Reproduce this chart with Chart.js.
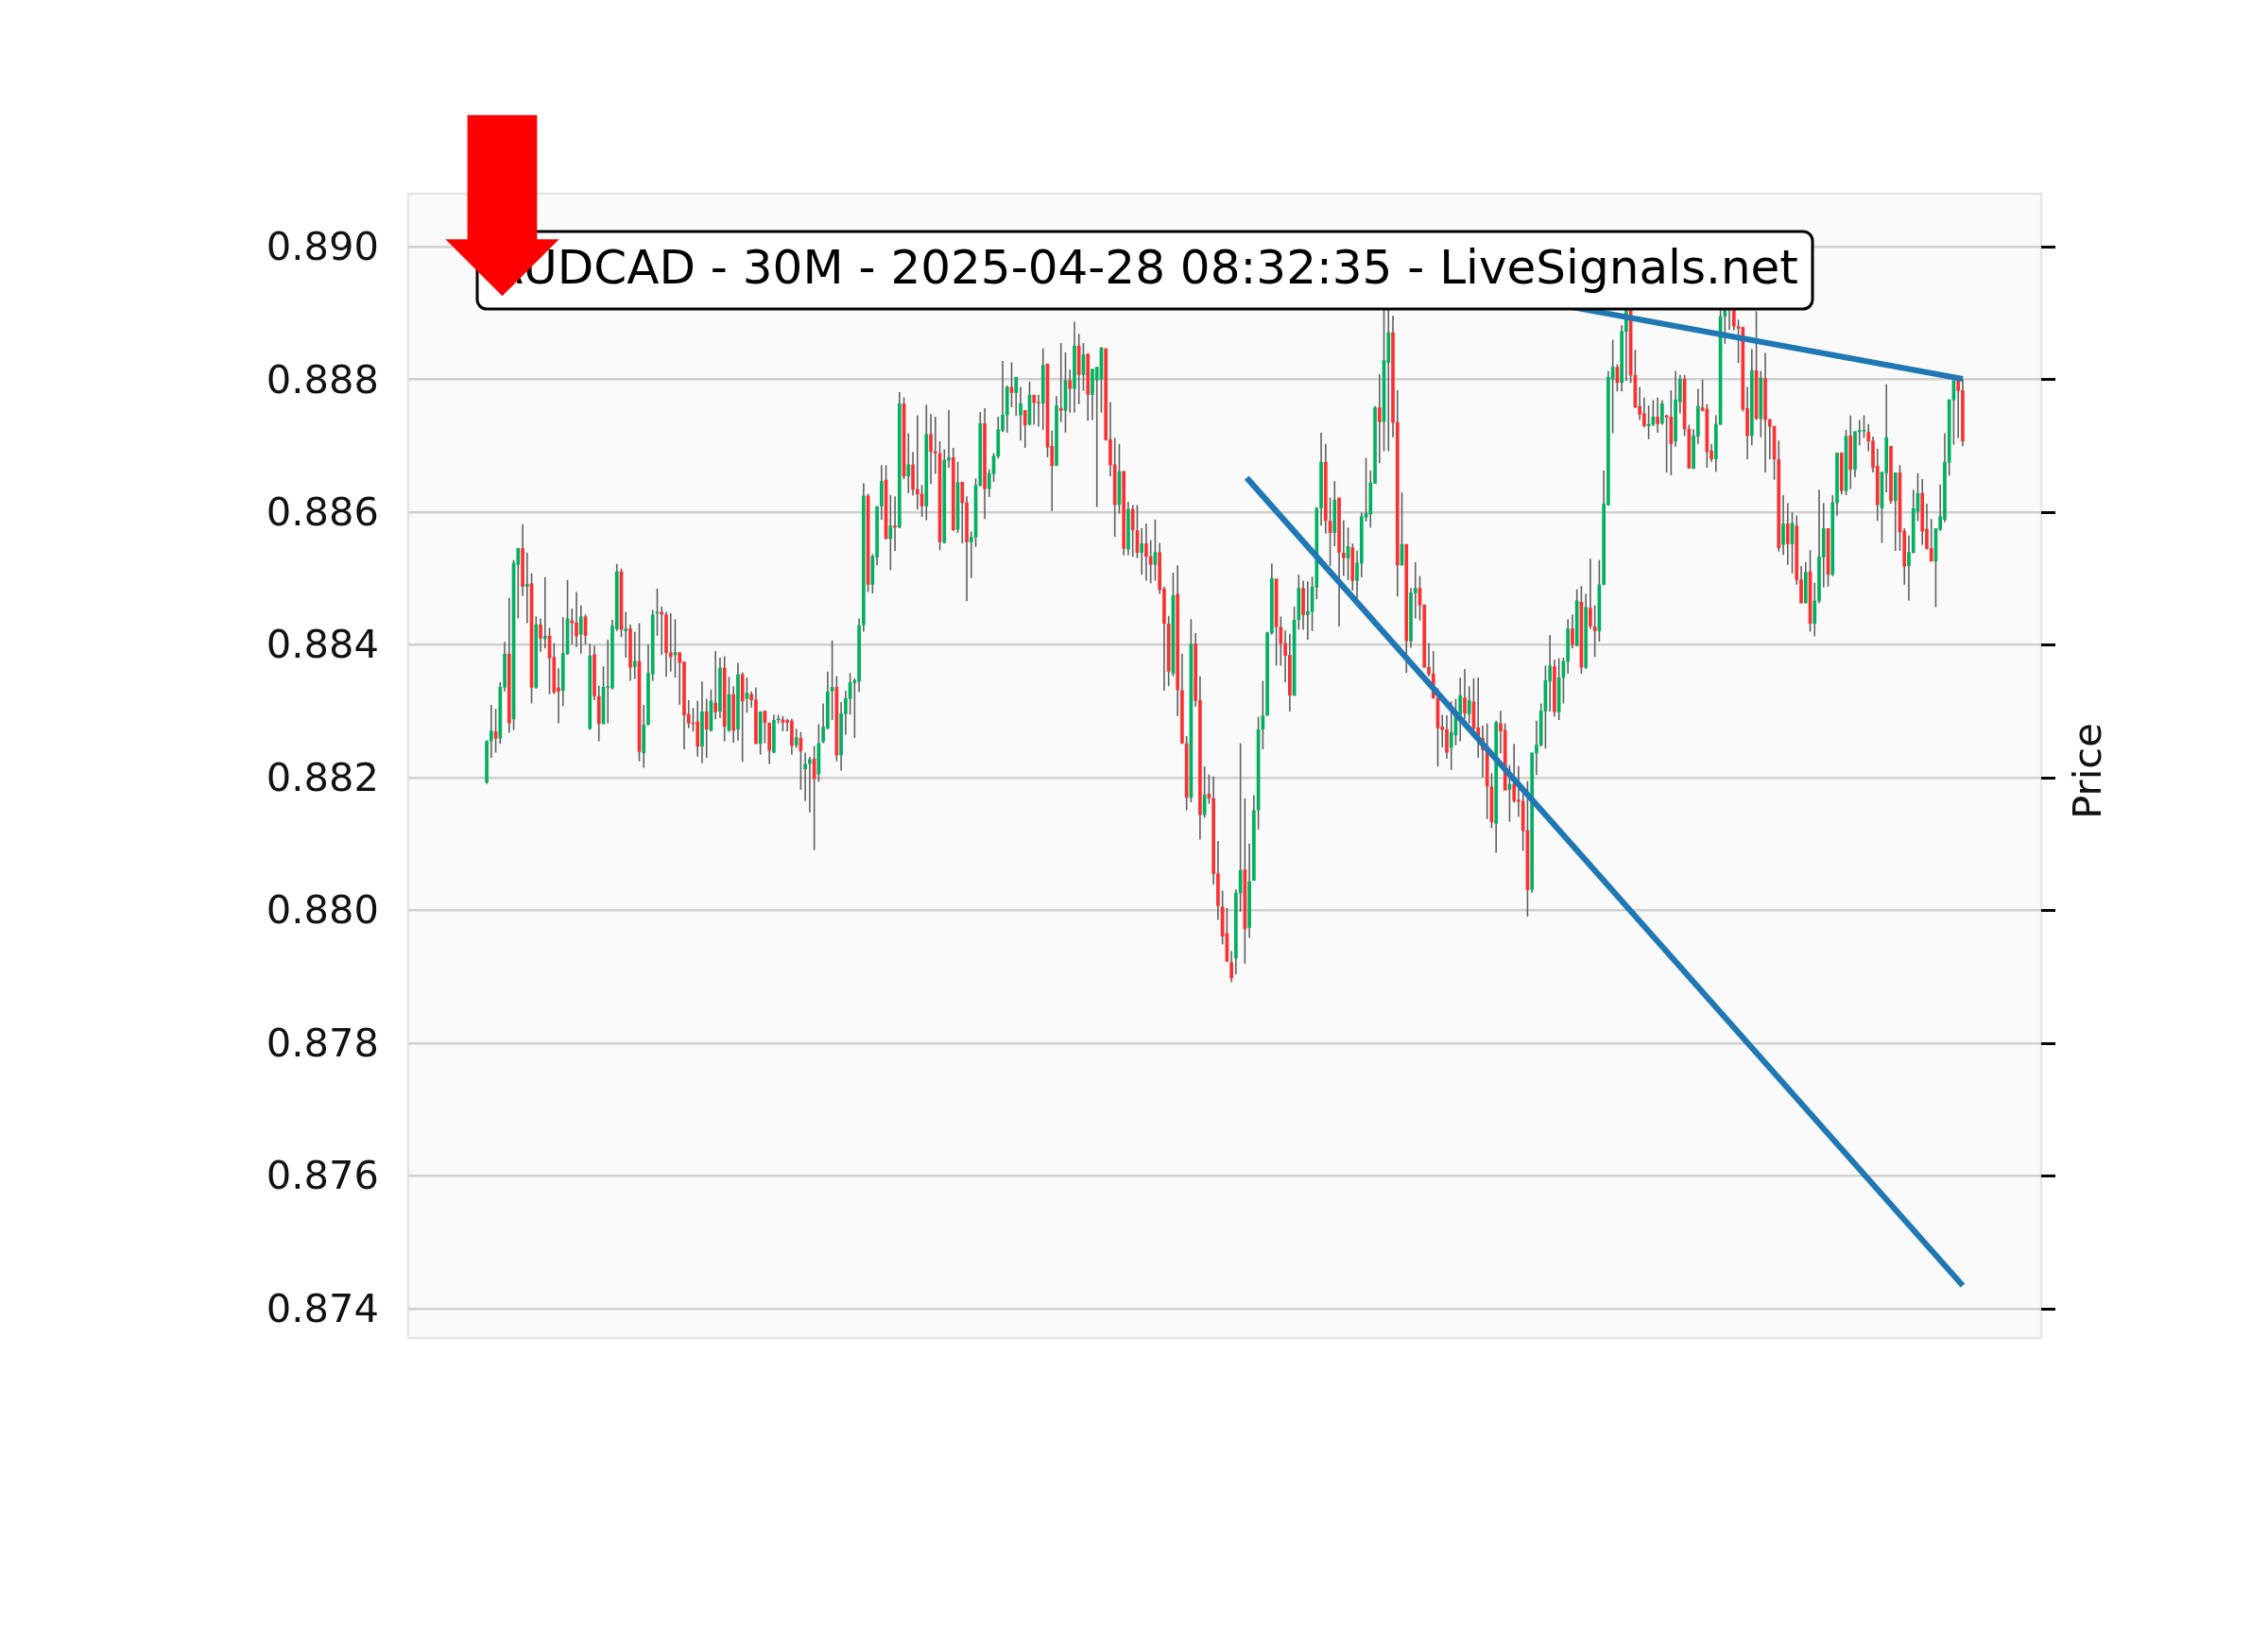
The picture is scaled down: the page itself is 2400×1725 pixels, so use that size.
<!DOCTYPE html>
<html>
<head>
<meta charset="utf-8">
<script src="https://cdn.jsdelivr.net/npm/chart.js@4.4.1/dist/chart.umd.min.js"></script>
<style>
  html, body { margin: 0; padding: 0; background: #fff; }
  #chart { display: block; }
</style>
</head>
<body>
<canvas id="chart" width="2400" height="1725"></canvas>
<script>
// AUDCAD 30M candles (index 0 = oldest)
const opens = [
  0.88193,0.88255,0.88270,0.88259,0.88336,0.88387,0.88288,0.88521,0.88546,0.88488,
  0.88493,0.88336,0.88431,0.88409,0.88414,0.88382,0.88336,0.88331,0.88387,0.88437,
  0.88434,0.88416,0.88443,0.88274,0.88386,0.88323,0.88281,0.88336,0.88335,0.88424,
  0.88511,0.88421,0.88425,0.88367,0.88376,0.88237,0.88280,0.88356,0.88448,0.88450,
  0.88446,0.88389,0.88385,0.88389,0.88375,0.88296,0.88283,0.88285,0.88247,0.88300,
  0.88271,0.88313,0.88300,0.88366,0.88271,0.88326,0.88273,0.88356,0.88319,0.88326,
  0.88318,0.88251,0.88301,0.88283,0.88238,0.88287,0.88288,0.88287,0.88286,0.88249,
  0.88260,0.88213,0.88221,0.88229,0.88205,0.88254,0.88274,0.88330,0.88337,0.88234,
  0.88296,0.88319,0.88343,0.88345,0.88430,0.88625,0.88491,0.88532,0.88609,0.88649,
  0.88560,0.88580,0.88577,0.88764,0.88654,0.88672,0.88635,0.88628,0.88609,0.88718,
  0.88692,0.88689,0.88554,0.88678,0.88683,0.88574,0.88646,0.88615,0.88555,0.88562,
  0.88640,0.88734,0.88635,0.88658,0.88684,0.88723,0.88746,0.88789,0.88780,0.88746,
  0.88754,0.88732,0.88777,0.88766,0.88764,0.88824,0.88700,0.88670,0.88757,0.88753,
  0.88799,0.88786,0.88851,0.88807,0.88839,0.88777,0.88799,0.88800,0.88847,0.88710,
  0.88672,0.88611,0.88662,0.88544,0.88605,0.88573,0.88539,0.88553,0.88534,0.88521,
  0.88540,0.88485,0.88432,0.88357,0.88477,0.88332,0.88252,0.88170,0.88402,0.88317,
  0.88144,0.88176,0.88169,0.88056,0.88006,0.87966,0.87922,0.87928,0.88026,0.88062,
  0.87974,0.88045,0.88151,0.88273,0.88294,0.88418,0.88500,0.88427,0.88403,0.88385,
  0.88324,0.88438,0.88486,0.88445,0.88450,0.88487,0.88606,0.88676,0.88587,0.88569,
  0.88622,0.88539,0.88531,0.88547,0.88497,0.88523,0.88592,0.88597,0.88643,0.88758,
  0.88736,0.88825,0.88871,0.88736,0.88520,0.88552,0.88406,0.88478,0.88486,0.88461,
  0.88367,0.88357,0.88320,0.88277,0.88273,0.88245,0.88264,0.88295,0.88321,0.88296,
  0.88315,0.88276,0.88260,0.88243,0.88187,0.88131,0.88282,0.88272,0.88182,0.88191,
  0.88167,0.88165,0.88121,0.88031,0.88237,0.88249,0.88300,0.88345,0.88368,0.88299,
  0.88351,0.88375,0.88425,0.88399,0.88465,0.88366,0.88456,0.88428,0.88421,0.88491,
  0.88611,0.88800,0.88819,0.88795,0.88872,0.88908,0.88807,0.88760,0.88749,0.88730,
  0.88732,0.88744,0.88734,0.88746,0.88744,0.88707,0.88766,0.88801,0.88726,0.88666,
  0.88714,0.88758,0.88756,0.88693,0.88680,0.88732,0.88895,0.88930,0.88915,0.88880,
  0.88879,0.88757,0.88715,0.88814,0.88741,0.88802,0.88740,0.88730,0.88680,0.88551,
  0.88583,0.88552,0.88580,0.88499,0.88463,0.88511,0.88432,0.88466,0.88532,0.88576,
  0.88506,0.88614,0.88690,0.88632,0.88716,0.88664,0.88721,0.88722,0.88721,0.88708,
  0.88670,0.88606,0.88659,0.88700,0.88617,0.88660,0.88572,0.88519,0.88539,0.88601,
  0.88629,0.88575,0.88546,0.88526,0.88574,0.88589,0.88675,0.88769,0.88799,0.88784
];
const highs = [
  0.88256,0.88310,0.88304,0.88344,0.88405,0.88471,0.88528,0.88546,0.88582,0.88539,
  0.88508,0.88443,0.88440,0.88502,0.88426,0.88403,0.88365,0.88442,0.88498,0.88455,
  0.88480,0.88460,0.88446,0.88402,0.88399,0.88339,0.88368,0.88408,0.88438,0.88522,
  0.88515,0.88450,0.88431,0.88420,0.88433,0.88310,0.88401,0.88453,0.88485,0.88458,
  0.88450,0.88448,0.88439,0.88389,0.88375,0.88317,0.88305,0.88316,0.88345,0.88319,
  0.88333,0.88391,0.88381,0.88383,0.88352,0.88338,0.88373,0.88359,0.88351,0.88330,
  0.88336,0.88300,0.88301,0.88283,0.88295,0.88295,0.88293,0.88289,0.88289,0.88274,
  0.88269,0.88238,0.88232,0.88248,0.88281,0.88312,0.88360,0.88407,0.88353,0.88314,
  0.88331,0.88358,0.88350,0.88440,0.88644,0.88628,0.88537,0.88609,0.88671,0.88671,
  0.88626,0.88624,0.88781,0.88773,0.88719,0.88691,0.88746,0.88641,0.88762,0.88748,
  0.88744,0.88707,0.88695,0.88754,0.88697,0.88676,0.88646,0.88624,0.88571,0.88651,
  0.88751,0.88757,0.88665,0.88689,0.88744,0.88828,0.88791,0.88826,0.88804,0.88789,
  0.88754,0.88797,0.88777,0.88777,0.88847,0.88824,0.88723,0.88775,0.88855,0.88841,
  0.88815,0.88887,0.88869,0.88855,0.88839,0.88816,0.88819,0.88849,0.88847,0.88766,
  0.88712,0.88703,0.88662,0.88616,0.88611,0.88611,0.88576,0.88583,0.88558,0.88589,
  0.88554,0.88488,0.88444,0.88509,0.88520,0.88387,0.88263,0.88439,0.88418,0.88353,
  0.88217,0.88205,0.88202,0.88105,0.88030,0.88004,0.87939,0.88032,0.88252,0.88169,
  0.88101,0.88174,0.88292,0.88346,0.88420,0.88523,0.88500,0.88443,0.88422,0.88417,
  0.88458,0.88506,0.88497,0.88496,0.88503,0.88608,0.88720,0.88703,0.88622,0.88647,
  0.88622,0.88588,0.88577,0.88553,0.88542,0.88600,0.88682,0.88663,0.88760,0.88808,
  0.88915,0.88925,0.88896,0.88784,0.88630,0.88552,0.88486,0.88525,0.88504,0.88461,
  0.88403,0.88391,0.88335,0.88295,0.88294,0.88315,0.88319,0.88351,0.88364,0.88338,
  0.88350,0.88351,0.88279,0.88282,0.88207,0.88286,0.88301,0.88282,0.88219,0.88251,
  0.88218,0.88188,0.88195,0.88238,0.88286,0.88312,0.88369,0.88415,0.88378,0.88380,
  0.88381,0.88439,0.88446,0.88484,0.88489,0.88477,0.88530,0.88460,0.88528,0.88663,
  0.88813,0.88860,0.88823,0.88882,0.88915,0.88915,0.88845,0.88789,0.88773,0.88761,
  0.88769,0.88773,0.88769,0.88747,0.88784,0.88813,0.88807,0.88807,0.88732,0.88725,
  0.88786,0.88800,0.88763,0.88703,0.88746,0.88908,0.88945,0.88950,0.88925,0.88890,
  0.88879,0.88789,0.88846,0.88903,0.88813,0.88840,0.88741,0.88730,0.88708,0.88626,
  0.88614,0.88600,0.88595,0.88519,0.88525,0.88543,0.88494,0.88634,0.88614,0.88576,
  0.88626,0.88690,0.88690,0.88724,0.88746,0.88722,0.88739,0.88746,0.88733,0.88714,
  0.88696,0.88661,0.88793,0.88700,0.88660,0.88671,0.88576,0.88565,0.88634,0.88659,
  0.88650,0.88613,0.88590,0.88576,0.88642,0.88719,0.88770,0.88799,0.88801,0.88801
];
const lows = [
  0.88191,0.88230,0.88238,0.88251,0.88330,0.88268,0.88272,0.88440,0.88474,0.88433,
  0.88312,0.88334,0.88390,0.88395,0.88326,0.88326,0.88282,0.88308,0.88385,0.88401,
  0.88397,0.88387,0.88401,0.88272,0.88317,0.88255,0.88281,0.88282,0.88333,0.88421,
  0.88412,0.88381,0.88346,0.88349,0.88225,0.88215,0.88279,0.88346,0.88414,0.88385,
  0.88352,0.88360,0.88351,0.88310,0.88243,0.88275,0.88270,0.88232,0.88222,0.88230,
  0.88270,0.88288,0.88290,0.88255,0.88269,0.88253,0.88256,0.88224,0.88298,0.88306,
  0.88251,0.88235,0.88252,0.88221,0.88237,0.88282,0.88270,0.88270,0.88235,0.88245,
  0.88182,0.88165,0.88148,0.88091,0.88194,0.88252,0.88273,0.88287,0.88225,0.88211,
  0.88265,0.88295,0.88260,0.88329,0.88420,0.88480,0.88478,0.88520,0.88589,0.88559,
  0.88513,0.88542,0.88576,0.88650,0.88629,0.88625,0.88604,0.88593,0.88588,0.88643,
  0.88658,0.88543,0.88553,0.88667,0.88572,0.88569,0.88553,0.88466,0.88501,0.88548,
  0.88639,0.88590,0.88623,0.88646,0.88681,0.88721,0.88720,0.88758,0.88745,0.88708,
  0.88697,0.88731,0.88732,0.88729,0.88724,0.88683,0.88602,0.88670,0.88736,0.88720,
  0.88750,0.88750,0.88763,0.88783,0.88738,0.88739,0.88608,0.88750,0.88708,0.88654,
  0.88563,0.88598,0.88535,0.88535,0.88533,0.88531,0.88506,0.88497,0.88493,0.88497,
  0.88477,0.88331,0.88338,0.88353,0.88293,0.88251,0.88151,0.88163,0.88307,0.88107,
  0.88140,0.88161,0.88039,0.87986,0.87949,0.87923,0.87892,0.87904,0.87998,0.87920,
  0.87959,0.88045,0.88122,0.88243,0.88293,0.88416,0.88369,0.88369,0.88344,0.88300,
  0.88323,0.88423,0.88423,0.88408,0.88421,0.88469,0.88580,0.88568,0.88519,0.88549,
  0.88428,0.88504,0.88498,0.88482,0.88470,0.88502,0.88586,0.88577,0.88643,0.88674,
  0.88692,0.88692,0.88713,0.88473,0.88520,0.88358,0.88396,0.88440,0.88437,0.88366,
  0.88353,0.88319,0.88217,0.88246,0.88229,0.88212,0.88249,0.88255,0.88288,0.88282,
  0.88272,0.88230,0.88201,0.88138,0.88124,0.88087,0.88237,0.88181,0.88134,0.88163,
  0.88141,0.88090,0.87991,0.88027,0.88204,0.88247,0.88244,0.88300,0.88292,0.88287,
  0.88312,0.88357,0.88395,0.88398,0.88357,0.88364,0.88424,0.88382,0.88405,0.88490,
  0.88610,0.88719,0.88782,0.88782,0.88798,0.88795,0.88757,0.88739,0.88728,0.88710,
  0.88730,0.88720,0.88732,0.88660,0.88656,0.88699,0.88749,0.88715,0.88666,0.88665,
  0.88703,0.88752,0.88667,0.88676,0.88661,0.88732,0.88854,0.88875,0.88874,0.88825,
  0.88752,0.88680,0.88701,0.88739,0.88713,0.88660,0.88680,0.88649,0.88541,0.88536,
  0.88521,0.88508,0.88491,0.88463,0.88463,0.88420,0.88413,0.88463,0.88487,0.88488,
  0.88504,0.88595,0.88627,0.88626,0.88635,0.88653,0.88701,0.88712,0.88692,0.88660,
  0.88587,0.88554,0.88630,0.88613,0.88542,0.88542,0.88491,0.88467,0.88538,0.88587,
  0.88551,0.88544,0.88526,0.88457,0.88572,0.88585,0.88655,0.88702,0.88712,0.88700
];
const closes = [
  0.88256,0.88271,0.88259,0.88337,0.88387,0.88282,0.88524,0.88546,0.88488,0.88492,
  0.88336,0.88431,0.88410,0.88414,0.88380,0.88329,0.88330,0.88388,0.88440,0.88433,
  0.88413,0.88443,0.88414,0.88384,0.88323,0.88281,0.88337,0.88338,0.88429,0.88511,
  0.88423,0.88425,0.88366,0.88376,0.88239,0.88280,0.88358,0.88446,0.88450,0.88446,
  0.88388,0.88382,0.88389,0.88373,0.88294,0.88282,0.88281,0.88247,0.88300,0.88273,
  0.88316,0.88299,0.88366,0.88277,0.88326,0.88271,0.88356,0.88315,0.88328,0.88317,
  0.88251,0.88300,0.88283,0.88241,0.88287,0.88288,0.88283,0.88283,0.88248,0.88261,
  0.88240,0.88221,0.88228,0.88198,0.88252,0.88277,0.88330,0.88337,0.88234,0.88297,
  0.88320,0.88344,0.88347,0.88430,0.88625,0.88491,0.88534,0.88609,0.88647,0.88560,
  0.88580,0.88577,0.88764,0.88654,0.88672,0.88634,0.88627,0.88609,0.88718,0.88691,
  0.88689,0.88555,0.88679,0.88683,0.88573,0.88645,0.88614,0.88555,0.88563,0.88641,
  0.88734,0.88635,0.88659,0.88685,0.88725,0.88747,0.88789,0.88780,0.88804,0.88764,
  0.88731,0.88777,0.88765,0.88764,0.88822,0.88698,0.88670,0.88761,0.88753,0.88799,
  0.88786,0.88851,0.88807,0.88838,0.88777,0.88816,0.88819,0.88848,0.88709,0.88671,
  0.88611,0.88662,0.88545,0.88605,0.88573,0.88539,0.88553,0.88533,0.88521,0.88540,
  0.88483,0.88432,0.88360,0.88475,0.88332,0.88252,0.88170,0.88402,0.88316,0.88144,
  0.88175,0.88169,0.88055,0.88007,0.87961,0.87923,0.87898,0.88027,0.88061,0.87972,
  0.88044,0.88151,0.88273,0.88294,0.88419,0.88501,0.88427,0.88402,0.88384,0.88324,
  0.88438,0.88486,0.88445,0.88451,0.88488,0.88606,0.88676,0.88587,0.88569,0.88619,
  0.88539,0.88531,0.88549,0.88497,0.88524,0.88594,0.88599,0.88645,0.88758,0.88736,
  0.88829,0.88871,0.88735,0.88520,0.88552,0.88406,0.88479,0.88486,0.88460,0.88366,
  0.88356,0.88320,0.88275,0.88272,0.88238,0.88269,0.88296,0.88324,0.88297,0.88317,
  0.88274,0.88257,0.88242,0.88187,0.88133,0.88284,0.88270,0.88181,0.88191,0.88165,
  0.88164,0.88120,0.88031,0.88238,0.88250,0.88301,0.88347,0.88369,0.88299,0.88351,
  0.88376,0.88425,0.88400,0.88467,0.88366,0.88457,0.88428,0.88421,0.88491,0.88613,
  0.88804,0.88819,0.88795,0.88873,0.88908,0.88806,0.88758,0.88747,0.88730,0.88733,
  0.88744,0.88733,0.88764,0.88743,0.88703,0.88770,0.88801,0.88725,0.88666,0.88716,
  0.88760,0.88753,0.88691,0.88680,0.88733,0.88895,0.88930,0.88915,0.88880,0.88877,
  0.88755,0.88715,0.88814,0.88741,0.88803,0.88739,0.88729,0.88680,0.88546,0.88583,
  0.88552,0.88584,0.88498,0.88463,0.88510,0.88432,0.88467,0.88533,0.88576,0.88506,
  0.88615,0.88690,0.88632,0.88715,0.88664,0.88722,0.88724,0.88723,0.88707,0.88667,
  0.88611,0.88661,0.88713,0.88617,0.88660,0.88570,0.88518,0.88540,0.88606,0.88629,
  0.88571,0.88545,0.88526,0.88576,0.88594,0.88676,0.88770,0.88799,0.88783,0.88707
];

const yTicks = [0.874, 0.876, 0.878, 0.880, 0.882, 0.884, 0.886, 0.888, 0.890];

// trend lines: [candle index, price] at both ends
const trendDownX = [169.4, 329];
const trendDownY = [0.88652, 0.87435];
const trendTopX = [201, 329];
const trendTopY = [0.88960, 0.88801];

const titleText = 'AUDCAD - 30M - 2025-04-28 08:32:35 - LiveSignals.net';

const Y_MIN = 0.87356, Y_MAX = 0.89080;
const X_MIN = -17.5, X_MAX = 346.5;
const UP = '#00b060', DOWN = '#fe3032', WICK = '#606060', LINE = '#1f77b4';
const FONT = '"DejaVu Sans", sans-serif';

const idx = opens.map((_, i) => i);
const wickData = idx.map(i => ({ x: i, y: [lows[i], highs[i]] }));
const bodyData = idx.map(i => ({ x: i, y: [opens[i], closes[i]] }));
const bodyColors = idx.map(i => closes[i] >= opens[i] ? UP : DOWN);

const decor = {
    id: 'decor',
    beforeDraw(chart) {
        const { ctx, chartArea: a } = chart;
        ctx.save();
        ctx.fillStyle = '#fafafa';
        ctx.fillRect(a.left, a.top, a.right - a.left, a.bottom - a.top);
        ctx.strokeStyle = '#e6e6e6';
        ctx.lineWidth = 2.5;
        ctx.strokeRect(a.left, a.top, a.right - a.left, a.bottom - a.top);
        ctx.restore();
    },
    afterDraw(chart) {
        const ctx = chart.ctx;
        ctx.save();

        // title box
        ctx.beginPath();
        ctx.roundRect(505, 245, 1413, 82, 10);
        ctx.fillStyle = '#ffffff';
        ctx.fill();
        ctx.lineWidth = 3;
        ctx.strokeStyle = '#000000';
        ctx.stroke();
        ctx.fillStyle = '#000000';
        ctx.font = '50px ' + FONT;
        ctx.textAlign = 'center';
        ctx.textBaseline = 'alphabetic';
        ctx.fillText(titleText, 1211, 300);

        // red signal arrow
        ctx.fillStyle = '#ff0000';
        ctx.beginPath();
        ctx.moveTo(494.6, 121.7);
        ctx.lineTo(568.3, 121.7);
        ctx.lineTo(568.3, 253.3);
        ctx.lineTo(591.6, 253.3);
        ctx.lineTo(531.5, 313.3);
        ctx.lineTo(471.4, 253.3);
        ctx.lineTo(494.6, 253.3);
        ctx.closePath();
        ctx.fill();

        // right axis label
        ctx.fillStyle = '#111';
        ctx.font = '41.67px ' + FONT;
        ctx.translate(2212, 816);
        ctx.rotate(-Math.PI / 2);
        ctx.textAlign = 'center';
        ctx.textBaseline = 'middle';
        ctx.fillText('Price', 0, 0);
        ctx.restore();
    }
};

new Chart(document.getElementById('chart'), {
    data: {
        datasets: [
            {
                type: 'line',
                data: trendDownX.map((x, i) => ({ x, y: trendDownY[i] })),
                borderColor: LINE,
                borderWidth: 6.25,
                pointRadius: 0,
                order: 0
            },
            {
                type: 'line',
                data: trendTopX.map((x, i) => ({ x, y: trendTopY[i] })),
                borderColor: LINE,
                borderWidth: 6.25,
                pointRadius: 0,
                order: 0
            },
            {
                type: 'bar',
                data: bodyData,
                backgroundColor: bodyColors,
                barThickness: 3.7,
                minBarLength: 1.5,
                inflateAmount: 0,
                grouped: false,
                order: 1
            },
            {
                type: 'bar',
                data: wickData,
                backgroundColor: WICK,
                barThickness: 1.6,
                inflateAmount: 0,
                grouped: false,
                order: 2
            }
        ]
    },
    options: {
        responsive: false,
        animation: false,
        devicePixelRatio: 1,
        events: [],
        layout: { padding: { top: 205, bottom: 309, left: 0, right: 0 } },
        plugins: { legend: { display: false }, tooltip: { enabled: false } },
        scales: {
            x: { type: 'linear', min: X_MIN, max: X_MAX, display: false, offset: false },
            y: {
                type: 'linear',
                position: 'left',
                min: Y_MIN,
                max: Y_MAX,
                afterBuildTicks: s => { s.ticks = yTicks.map(v => ({ value: v })); },
                afterFit: s => { s.width = 432; },
                ticks: {
                    callback: v => v.toFixed(3),
                    font: { family: 'DejaVu Sans', size: 41.67 },
                    color: '#111',
                    padding: 31,
                    labelOffset: 3
                },
                grid: { color: '#d0d0d0', lineWidth: 2.5, drawTicks: false },
                border: { display: false }
            },
            yRight: {
                type: 'linear',
                position: 'right',
                min: Y_MIN,
                max: Y_MAX,
                afterBuildTicks: s => { s.ticks = yTicks.map(v => ({ value: v })); },
                afterFit: s => { s.width = 240; },
                ticks: { display: false },
                grid: {
                    drawOnChartArea: false,
                    drawTicks: true,
                    tickLength: 15,
                    tickColor: '#000',
                    tickWidth: 3,
                    color: '#000'
                },
                border: { display: false }
            }
        }
    },
    plugins: [decor]
});
</script>
</body>
</html>
